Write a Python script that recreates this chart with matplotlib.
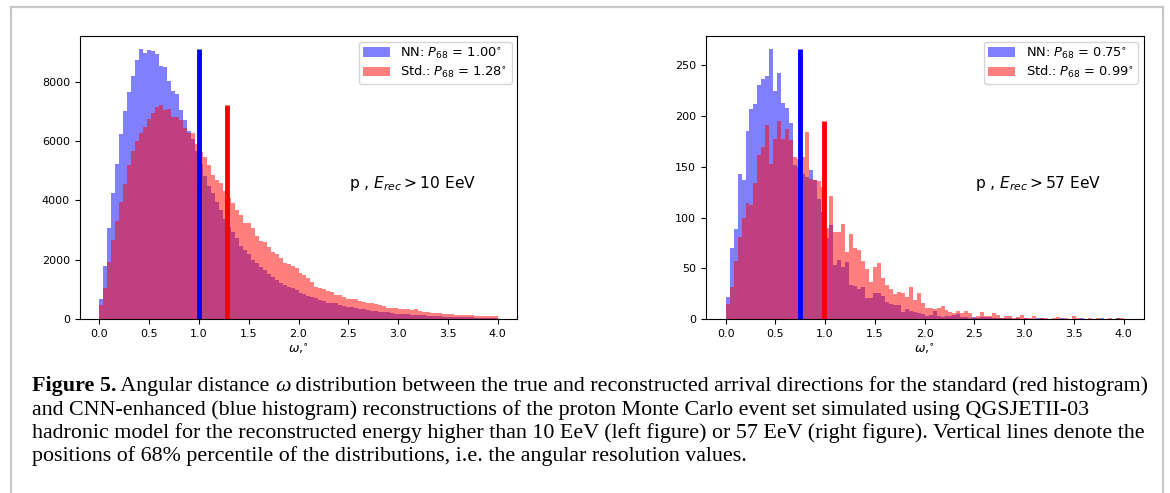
import numpy as np
import matplotlib
matplotlib.use('Agg')
import matplotlib.pyplot as plt
from matplotlib.lines import Line2D

# ---------------- data (counts per bin, 100 bins on [0, 4]) ----------------
bin_lo, bin_hi, n_bins = 0.0, 4.0, 100

left_nn = [663, 1797, 3055, 4245, 5222, 6221, 6996, 7659, 8175, 8714,
           9090, 8973, 9074, 9029, 8917, 8520, 8500, 8035, 7670, 7590,
           7025, 6690, 6330, 6050, 5650, 5222, 4818, 4481, 4245, 3953,
           3672, 3380, 3105, 2920, 2740, 2459, 2325, 2179, 1988, 1876,
           1752, 1640, 1527, 1400, 1330, 1200, 1150, 1080, 1033, 977,
           887, 842, 775, 730, 707, 640, 618, 550, 528, 528,
           460, 438, 416, 393, 359, 337, 326, 303, 281, 258,
           236, 236, 225, 191, 180, 168, 157, 157, 146, 146,
           135, 124, 112, 101, 90, 90, 79, 79, 67, 67,
           56, 56, 56, 56, 45, 45, 45, 34, 34, 34]

left_std = [472, 1045, 1909, 2656, 3302, 3930, 4548, 5188, 5671, 5997,
            6270, 6485, 6738, 6929, 7142, 7210, 7030, 7070, 6790, 6805,
            6704, 6435, 6260, 6250, 5900, 5626, 5469, 5188, 4851, 4672,
            4571, 4300, 4065, 3919, 3661, 3504, 3234, 3223, 3055, 2808,
            2628, 2583, 2437, 2257, 2179, 2044, 1880, 1860, 1800, 1707,
            1539, 1482, 1370, 1258, 1089, 1033, 999, 955, 898, 809,
            809, 730, 685, 663, 663, 618, 573, 550, 528, 505,
            483, 438, 382, 359, 359, 348, 348, 337, 303, 337,
            270, 247, 247, 213, 213, 191, 180, 180, 157, 146,
            146, 135, 135, 124, 112, 112, 101, 90, 101, 90]

right_nn = [22, 70, 89, 143, 137, 185, 207, 212, 231, 237,
            240, 266, 225, 243, 213, 208, 193, 152, 150, 143,
            140, 147, 137, 118, 105, 80, 93, 53, 58, 51,
            56, 34, 33, 30, 32, 21, 21, 26, 26, 23,
            17, 15, 14, 14, 7, 10, 8, 7, 6, 5,
            3, 4, 8, 3, 2, 3, 3, 4, 5, 2,
            2, 1, 2, 1, 2, 2, 2, 1, 1, 1,
            1, 1, 0, 1, 0, 1, 0, 0, 1, 1,
            0, 0, 0, 0, 1, 0, 0, 0, 0, 1,
            0, 0, 0, 0, 1, 0, 0, 0, 1, 0]

right_std = [15, 32, 57, 81, 100, 114, 112, 134, 162, 170,
             191, 153, 177, 195, 177, 187, 176, 160, 158, 160,
             184, 138, 137, 136, 130, 90, 121, 86, 86, 94,
             66, 84, 70, 68, 57, 49, 36, 51, 55, 40,
             34, 30, 25, 27, 26, 22, 32, 19, 26, 16,
             11, 11, 10, 11, 13, 9, 7, 6, 8, 6,
             8, 6, 1, 3, 7, 3, 3, 6, 4, 1,
             3, 3, 1, 2, 4, 1, 1, 3, 0, 1,
             1, 0, 1, 2, 0, 1, 0, 3, 1, 0,
             0, 1, 0, 1, 0, 0, 1, 0, 1, 1]

left_p68 = [1.00, 1.28]    # NN, Std.
right_p68 = [0.75, 0.99]   # NN, Std.
left_note = r"p , $E_{rec} > 10$ EeV"
right_note = r"p , $E_{rec} > 57$ EeV"
xlabel = r"$\omega$,$^{\circ}$"

caption_lines = [
    [("Figure 5.", "bold", "normal"), (" Angular distance ", "normal", "normal"), ("\u03c9", "normal", "italic"),
     (" distribution between the true and reconstructed arrival directions for the standard (red histogram)", "normal", "normal")],
    [("and CNN-enhanced (blue histogram) reconstructions of the proton Monte Carlo event set simulated using QGSJETII-03", "normal", "normal")],
    [("hadronic model for the reconstructed energy higher than 10 EeV (left figure) or 57 EeV (right figure). Vertical lines denote the", "normal", "normal")],
    [("positions of 68% percentile of the distributions, i.e. the angular resolution values.", "normal", "normal")],
]

# ---------------- figure ----------------
W, H = 1170, 493
plt.rcParams['font.family'] = ['DejaVu Sans']
fig = plt.figure(figsize=(W / 100, H / 100), dpi=100)
tick_fs = 8.0
label_fs = 9.0
leg_fs = 9.4
note_fs = 11.2

edges = np.linspace(bin_lo, bin_hi, n_bins + 1)
centers = 0.5 * (edges[:-1] + edges[1:])


def panel(rect, nn, std, p68, note):
    ax = fig.add_axes(rect)
    ax.hist(centers, bins=edges, weights=nn, color='blue', alpha=0.5,
            label=r"NN: $P_{68}$ = %.2f$^{\circ}$" % p68[0])
    ax.hist(centers, bins=edges, weights=std, color='red', alpha=0.5,
            label=r"Std.: $P_{68}$ = %.2f$^{\circ}$" % p68[1])
    ax.vlines(p68[0], 0, max(nn), color='blue', lw=3.5)
    ax.vlines(p68[1], 0, max(std), color='red', lw=3.5)
    ax.set_xticks(np.arange(0, 4.01, 0.5))
    ax.tick_params(labelsize=tick_fs)
    ax.set_xlabel(xlabel, fontsize=label_fs, labelpad=2)
    ax.legend(loc='upper right', fontsize=leg_fs, labelspacing=0.25,
              borderpad=0.3, handlelength=2.1, borderaxespad=0.45)
    ax.text(0.615, 0.462, note, transform=ax.transAxes, fontsize=note_fs)
    return ax


axw = 437.8 / W
axb = (H - 319) / H
axh = (319 - 35.7) / H
ax1 = panel([79.6 / W, axb, axw, axh], left_nn, left_std, left_p68, left_note)
ax2 = panel([705.7 / W, axb, axw, axh], right_nn, right_std, right_p68, right_note)

# outer frame (light gray)
fc = '#c8c8c8'
fx0, fx1, fy1 = 11 / W, 1163 / W, 1 - 7 / H
fig.add_artist(Line2D([fx0, fx1], [fy1, fy1], color=fc, lw=1.6, transform=fig.transFigure))
fig.add_artist(Line2D([fx0, fx0], [fy1, -0.05], color=fc, lw=1.6, transform=fig.transFigure))
fig.add_artist(Line2D([fx1, fx1], [fy1, -0.05], color=fc, lw=1.6, transform=fig.transFigure))

# caption
fig.canvas.draw()
r = fig.canvas.get_renderer()
cfs = 15.8
serif = ['Liberation Serif', 'DejaVu Serif']
baselines = [391, 414.5, 438, 461.5]
x_start = 31.5
for line, yb in zip(caption_lines, baselines):
    x = x_start
    for txt, wgt, sty in line:
        t = fig.text(x / W, 1 - yb / H, txt, fontsize=cfs, family=serif,
                     fontweight=wgt, fontstyle=sty, va='baseline', ha='left')
        bb = t.get_window_extent(r)
        x = bb.x1

fig.savefig('out.png', dpi=100)
